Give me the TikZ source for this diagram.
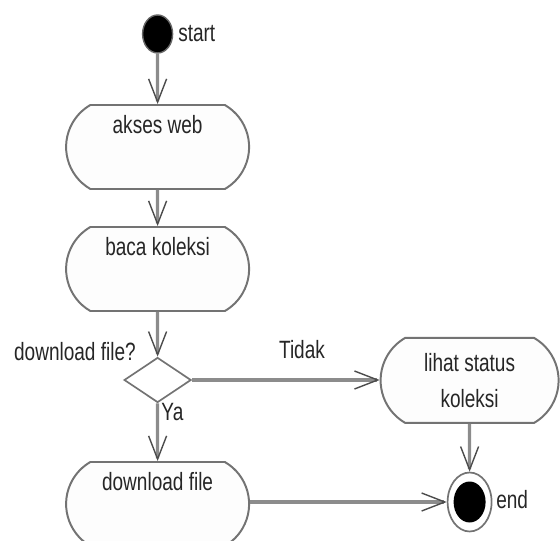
\documentclass[tikz,border=0pt]{standalone}
\usepackage{fontspec}
\setmainfont{Liberation Sans}
\usetikzlibrary{arrows.meta,shapes.geometric,shapes.misc}

\definecolor{linegray}{RGB}{140,140,140}
\definecolor{boxgray}{RGB}{115,115,115}
\definecolor{boxfill}{RGB}{253,253,253}
\newcommand{\narrow}[1]{\scalebox{0.76}[1]{#1}}

\tikzset{
	actbox/.style={rounded rectangle, rounded rectangle arc length=120, draw=boxgray, line width=1.4pt, fill=boxfill, minimum width=4.575cm, minimum height=2.1cm, text height=0.72cm, text depth=1.38cm, inner sep=0pt},
	flow/.style={draw=linegray, line width=2.3pt, -{Straight Barb[length=0.58cm, width=0.45cm, line width=1pt, color=black!70]}},
	lbl/.style={inner sep=0pt, text=black!85},
}

\begin{document}
\begin{tikzpicture}[every node/.style={font=\fontsize{17.8}{25.6}\selectfont}]
	\useasboundingbox (0,0) rectangle (14,13.5);

	\node[ellipse, fill=black, draw=black!60, line width=1pt, minimum width=0.75cm, minimum height=0.95cm, inner sep=0pt] (start) at (3.94,12.65) {};
	\node[actbox, text=black!85] (akses) at (3.94,9.825) {\narrow{akses web}};
	\node[actbox, text=black!85] (baca) at (3.94,6.775) {\narrow{baca koleksi}};
	\node[diamond, draw=boxgray, line width=1.2pt, fill=white, minimum width=1.675cm, minimum height=1.125cm, inner sep=0pt] (cek) at (3.94,4.0) {};
	\node[actbox, text=black!85] (unduh) at (3.94,0.9) {\narrow{download file}};
	\node[rounded rectangle, rounded rectangle arc length=120, draw=boxgray, line width=1.4pt, fill=boxfill, minimum width=4.45cm, minimum height=2.125cm, inner sep=0pt, align=center, text=black!85] (lihat) at (11.74,3.99) {\narrow{lihat status}\\\narrow{koleksi}};
	\node[ellipse, draw=boxgray, line width=1.2pt, fill=white, minimum width=1.1cm, minimum height=1.475cm, inner sep=0pt] (akhir) at (11.74,0.95) {};
	\node[ellipse, fill=black, minimum width=0.8cm, minimum height=1.025cm, inner sep=0pt] (akhirdot) at (akhir.center) {};

	\draw[flow] (start) -- (akses);
	\draw[flow] (akses) -- (baca);
	\draw[flow] (baca) -- (cek);
	\draw[flow] (cek) -- (unduh);
	\draw[flow] (cek.east) -- (cek.east -| lihat.west);
	\draw[flow] (lihat) -- (akhir);
	\draw[flow] (unduh.east |- akhir) -- (akhir.west);

	\node[lbl, anchor=west] (lblstart) at (4.45,12.65) {\narrow{start}};
	\node[lbl, anchor=east] (lblcek) at (3.4,4.7) {\narrow{download file?}};
	\node[lbl] (lbltidak) at (7.55,4.75) {\narrow{Tidak}};
	\node[lbl, anchor=west] (lblya) at (4.03,3.2) {\narrow{Ya}};
	\node[lbl, anchor=west] (lblend) at (12.4,1.0) {\narrow{end}};
\end{tikzpicture}
\end{document}
